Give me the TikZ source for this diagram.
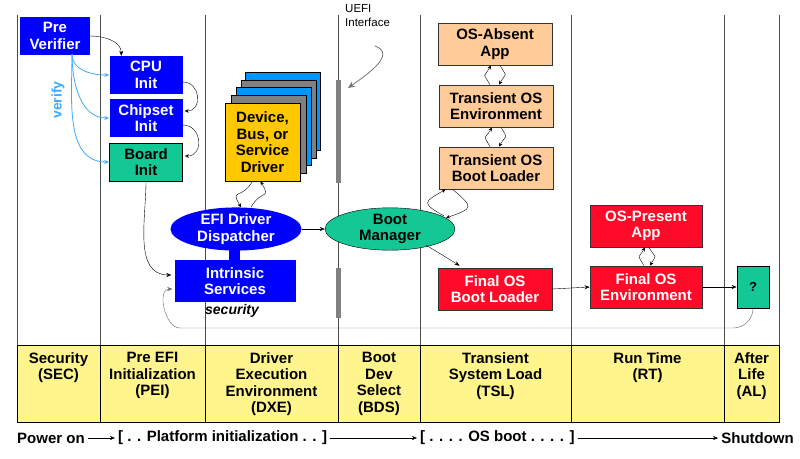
\documentclass[tikz,border=0pt]{standalone}
\usepackage{fontspec}
\setmainfont{Liberation Sans}
\usepackage{tikz}
\usetikzlibrary{arrows.meta,positioning,calc,shapes}

\definecolor{efiblue}{RGB}{0,0,255}
\definecolor{efigreen}{RGB}{20,200,150}
\definecolor{efitan}{RGB}{255,204,153}
\definecolor{efired}{RGB}{255,10,40}
\definecolor{efiyellow}{RGB}{255,245,140}
\definecolor{efigold}{RGB}{255,200,0}
\definecolor{efisky}{RGB}{0,150,255}
\definecolor{efiverify}{RGB}{60,170,255}

\tikzset{
  lbl/.style={font=\bfseries\fontsize{15}{16.5}\selectfont, align=center, inner sep=0pt},
  bluebox/.style={lbl, fill=efiblue, text=white, minimum width=73pt, minimum height=38pt},
  greenbox/.style={lbl, fill=efigreen, draw=black, thick, minimum height=38pt},
  tanbox/.style={lbl, fill=efitan, draw=black!80, thick, minimum width=114pt, minimum height=42pt},
  redbox/.style={lbl, fill=efired, text=white, draw=black!80, thick, minimum height=42pt},
  phase/.style={lbl, fill=efiyellow, draw=black, anchor=north west, minimum height=77pt},
  flow/.style={-{Stealth[length=5pt,width=4pt]}, black, thin},
  cycle/.style={-{Stealth[length=4pt,width=3.5pt]}, black, thin},
  verifyarr/.style={-{Stealth[length=5pt,width=4pt]}, efiverify, thick}
}

\begin{document}
\begin{tikzpicture}[x=1pt,y=-1pt]
\useasboundingbox (0,0) rectangle (800,458);

% Phase columns
\foreach \x in {17,100,205,338,420,571,724,779}
    \draw[black!70] (\x,15) -- (\x,345);
\foreach \x/\w/\name in {17/83/sec, 100/105/pei, 205/133/dxe, 338/82/bds,
    420/151/tsl, 571/153/rt, 724/55/al}
    \node[phase, minimum width=\w pt] (\name) at (\x,345) {};
\foreach \x/\w/\txt in {17/83/{Security\\(SEC)}, 100/105/{Pre EFI\\Initialization\\(PEI)},
    205/133/{Driver\\Execution\\Environment\\(DXE)}, 338/82/{Boot\\Dev\\Select\\(BDS)},
    420/151/{Transient\\System Load\\(TSL)}, 571/153/{Run Time\\(RT)}, 724/55/{After\\Life\\(AL)}}
    \node[lbl, anchor=north, font=\bfseries\fontsize{15}{16.5}\selectfont] at (\x+\w/2,352) {\txt};

% SEC / PEI
\node[bluebox, minimum width=70pt] (pre) at (55,36) {Pre\\Verifier};
\node[bluebox] (cpu) at (146,75) {CPU\\Init};
\node[bluebox] (chipset) at (146,118) {Chipset\\Init};
\node[greenbox, minimum width=73pt] (board) at (146,162) {Board\\Init};
\draw[flow] (pre.east) to[out=0,in=90] ($(cpu.north west)+(12,0)$);
\draw[verifyarr] (72,54) to[out=-90,in=180] (cpu.west);
\draw[verifyarr] (72,54) to[out=-90,in=180] (chipset.west);
\draw[verifyarr] (72,54) to[out=-90,in=180] (board.west);
\node[lbl, rotate=90, text=efiverify, font=\bfseries\fontsize{14}{16}\selectfont] (verify) at (58,100) {verify};
\draw[cycle] ($(cpu.east)+(0,7)$) to[out=0,in=0,looseness=1.6] ($(chipset.east)+(2,-7)$);
\draw[cycle] ($(chipset.east)+(0,7)$) to[out=0,in=0,looseness=1.6] ($(board.east)+(2,-6)$);

% DXE
\foreach \dx/\dy/\col in {20/-31/efisky, 16/-23/gray, 11/-16/efisky, 6/-8/gray}
    \draw[fill=\col, draw=black] (225+\dx,103+\dy) rectangle +(75,78);
\node[lbl, fill=efigold, draw=black, minimum width=75pt, minimum height=78pt] (driver) at (262.5,142) {Device,\\Bus, or\\Service\\Driver};
\node[lbl, ellipse, fill=efiblue, text=white, minimum width=131pt, minimum height=40pt] (dispatch) at (236,229) {EFI Driver\\Dispatcher};
\node[lbl, fill=efiblue, text=white, minimum width=121pt, minimum height=42pt] (intrinsic) at (235,281) {Intrinsic\\Services};
\fill[efiblue] (229,245) rectangle (240,262);
\node[lbl, font=\bfseries\itshape\fontsize{14}{16}\selectfont] (security) at (232,311) {security};
\draw[cycle] ($(dispatch.north)+(15,0)$) to[out=60,in=-60,looseness=2] ($(driver.south)+(-2,0)$);
\draw[cycle] ($(driver.south)+(-10,0)$) to[out=-120,in=120,looseness=2] ($(dispatch.north)+(5,0)$);
\draw[flow] (board.south) to[out=-90,in=180] ($(intrinsic.west)+(-3,-6)$);

% BDS
\node[lbl, ellipse, fill=efigreen, draw=black, minimum width=130pt, minimum height=40pt] (bootmgr) at (390,229) {Boot\\Manager};
\draw[flow] (dispatch.east) -- (bootmgr.west);
\fill[black!50] (336,80) rectangle (341,183);
\fill[black!50] (336,268) rectangle (341,318);
\node[anchor=north west, align=left, inner sep=0pt, font=\fontsize{11.5}{14}\selectfont] (uefi) at (345,4) {UEFI\\Interface};
\coordinate (uefitail) at (375,46);
\draw[-{Stealth[length=7pt,width=6pt]}, black!55, thick] (uefitail) to[out=-20,in=35,looseness=1.2] (348,88);

% TSL
\node[tanbox] (absent) at (495,44) {OS-Absent\\App};
\node[tanbox] (tenv) at (496,106) {Transient OS\\Environment};
\node[tanbox] (tload) at (496,168) {Transient OS\\Boot Loader};
\node[redbox, minimum width=114pt] (fload) at (495,289) {Final OS\\Boot Loader};
\foreach \lo/\hi in {tenv/absent, tload/tenv}{
    \draw[cycle] ($(\lo.north)+(-6,0)$) to[out=120,in=-120,looseness=2] ($(\hi.south)+(-4,0)$);
    \draw[cycle] ($(\hi.south)+(5,0)$) to[out=-60,in=60,looseness=2] ($(\lo.north)+(3,0)$);
}
\draw[cycle] (444,216) to[out=150,in=-150,looseness=2.5] ($(tload.south west)+(7,0)$);
\draw[cycle] ($(tload.south west)+(14,0)$) to[out=-40,in=20,looseness=2.5] (446,218);
\draw[flow] ($(bootmgr.south east)+(-10,1)$) -- ($(fload.north west)+(22,-2)$);

% RT / AL
\node[redbox, minimum width=112pt] (present) at (646,226) {OS-Present\\App};
\node[redbox, minimum width=112pt] (fenv) at (646,287) {Final OS\\Environment};
\node[lbl, fill=efigreen, draw=black, thick, minimum width=32pt, minimum height=42pt, font=\bfseries\fontsize{13}{15}\selectfont] (unknown) at (753,287) {?};
\draw[cycle] ($(fenv.north)+(-2,0)$) to[out=120,in=-120,looseness=2] ($(present.south)+(-1,0)$);
\draw[cycle] ($(present.south)+(3,0)$) to[out=-60,in=60,looseness=2] ($(fenv.north)+(4,0)$);
\draw[flow] (fload.east) -- (fenv.west);
\draw[flow] (fenv.east) -- (unknown.west);
\draw[flow, black!60] (unknown.south) to[out=-90,in=0] (733,328) -- (180,328)
    to[out=180,in=180,looseness=1] ($(intrinsic.west)+(-2,8)$);

% Timeline
\node[lbl, anchor=west] (poweron) at (17,438) {Power on};
\node[lbl, anchor=west] (platform) at (118,438) {[ . . Platform initialization . . ]};
\node[lbl, anchor=west] (osboot) at (420,438) {[ . . . . OS boot . . . . ]};
\node[lbl, anchor=east] (shutdown) at (794,438) {Shutdown};
\draw[flow] (poweron.east) ++(3,0) -- ($(platform.west)+(-3,0)$);
\draw[flow] (platform.east) ++(3,0) -- ($(osboot.west)+(-3,0)$);
\draw[flow] (osboot.east) ++(3,0) -- ($(shutdown.west)+(-3,0)$);
\end{tikzpicture}
\end{document}
